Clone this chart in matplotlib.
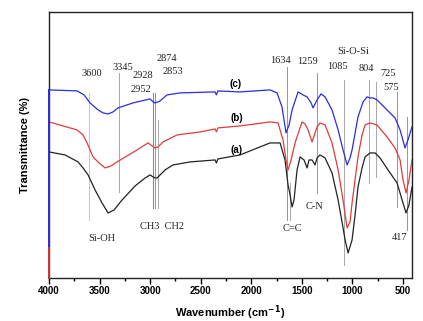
import numpy as np
import matplotlib.pyplot as plt

plt.rcParams['font.family'] = ['Liberation Sans', 'DejaVu Sans']

# FTIR spectra, transmittance in arbitrary units (offset curves)
wn_a = [4000, 3842, 3713, 3664, 3614, 3545, 3476, 3416, 3357, 3278, 3149, 3050, 3001, 2971, 2951,
        2932, 2902, 2853, 2774, 2606, 2358, 2345, 2330, 2111, 1814, 1715, 1666, 1636, 1616, 1596,
        1577, 1547, 1517, 1478, 1448, 1428, 1399, 1369, 1349, 1320, 1270, 1201, 1141, 1102, 1072,
        1042, 1003, 973, 944, 904, 874, 825, 776, 726, 647, 558, 508, 469, 440, 410]
t_a = [126, 123, 116, 110, 103, 88, 75, 65, 68, 78, 92, 100, 103, 101, 100,
       100, 103, 108, 113, 116, 118, 115, 119, 123, 135, 135, 118, 93, 83, 71,
       78, 108, 121, 118, 110, 118, 118, 113, 120, 123, 120, 105, 78, 56, 38,
       25, 38, 63, 91, 110, 121, 125, 125, 120, 108, 95, 78, 65, 73, 91]

wn_b = [4000, 3723, 3664, 3624, 3565, 3506, 3446, 3387, 3328, 3229, 3130, 3021, 2981, 2951, 2922,
        2873, 2734, 2506, 2358, 2345, 2330, 2111, 1814, 1735, 1686, 1656, 1636, 1606, 1567, 1498,
        1468, 1438, 1399, 1379, 1349, 1320, 1270, 1201, 1141, 1092, 1052, 1023, 1003, 944, 904,
        874, 825, 756, 657, 578, 528, 499, 469, 440, 410]
t_b = [156, 148, 143, 135, 121, 115, 110, 112, 116, 122, 128, 135, 132, 130, 131,
       136, 143, 146, 149, 146, 150, 152, 156, 155, 138, 118, 108, 118, 135, 156,
       154, 148, 136, 142, 151, 155, 153, 135, 108, 78, 50, 56, 75, 121, 143,
       153, 155, 153, 141, 130, 118, 98, 85, 98, 118]

wn_c = [4000, 3723, 3654, 3595, 3515, 3466, 3416, 3367, 3318, 3169, 3001, 2971, 2951, 2922, 2902,
        2833, 2704, 2358, 2345, 2330, 2111, 1814, 1745, 1696, 1676, 1656, 1626, 1596, 1537, 1488,
        1448, 1408, 1389, 1349, 1310, 1270, 1201, 1141, 1092, 1052, 1023, 1003, 944, 894, 855,
        825, 795, 756, 657, 578, 528, 479, 450, 410]
t_c = [188, 187, 183, 175, 168, 165, 164, 166, 170, 175, 179, 176, 175, 176, 177,
       183, 185, 186, 183, 187, 186, 188, 185, 171, 158, 145, 153, 168, 186, 183,
       181, 175, 170, 178, 184, 181, 168, 148, 128, 113, 120, 128, 161, 176, 181,
       180, 180, 178, 168, 160, 148, 130, 138, 151]

# band marker lines: wavenumber, top, bottom, colour
mark_wn = [3604, 3308, 2971, 2951, 2922, 1646, 1616, 1349, 1082, 835, 766, 558, 459]
mark_top = [185, 205, 185, 185, 158, 211, 95, 205, 198, 198, 196, 186, 161]
mark_bot = [58, 86, 70, 70, 70, 58, 58, 85, 13, 95, 101, 71, 48]
mark_col = ['#c8c8c8', '#aaaaaa', '#888888', '#999999', '#aaaaaa', '#999999', '#aaaaaa',
            '#999999', '#aaaaaa', '#aaaaaa', '#aaaaaa', '#999999', '#999999']

# annotation texts
ann_txt = ['3600', '3345', '2928', '2952', '2874', '2853', '1634', '1259', 'Si-O-Si', '1085',
           '804', '725', '575', 'Si-OH', 'CH3  CH2', 'C=C', 'C-N', '417']
ann_wn = [3575, 3268, 3070, 3090, 2833, 2774, 1715, 1448, 994, 1151,
          865, 647, 618, 3476, 2882, 1596, 1369, 538]
ann_t = [204, 210, 202, 188, 219, 206, 217, 216, 226, 211,
         209, 204, 190, 39, 51, 49, 71, 40]

lab_txt = ['(c)', '(b)', '(a)']
lab_wn = [2160, 2141, 2141]
lab_t = [194, 160, 128]

fig = plt.figure(figsize=(4.23, 3.21), dpi=100)
ax = fig.add_axes([0.116, 0.134, 0.858, 0.829])

for w, t0, t1, c in zip(mark_wn, mark_top, mark_bot, mark_col):
    ax.plot([w, w], [t1, t0], color=c, lw=0.75, zorder=1)

ax.plot(wn_a, t_a, color='#222222', lw=0.9, zorder=3)
ax.plot(wn_b, t_b, color='#e03c3c', lw=0.9, zorder=3)
ax.plot(wn_c, t_c, color='#2c2ce0', lw=0.9, zorder=3)

# coloured left edge as in the original
ax.plot([4000, 4000], [t_c[0], 30], color='#2c2ce0', lw=1.4, zorder=4, clip_on=False)
ax.plot([4000, 4000], [30, 0], color='#cc3333', lw=1.4, zorder=4, clip_on=False)

for s, w, t in zip(ann_txt, ann_wn, ann_t):
    ax.text(w, t, s, ha='center', va='center', fontsize=7.5,
            family='Liberation Serif', color='#222222')
for s, w, t in zip(lab_txt, lab_wn, lab_t):
    ax.text(w, t, s, ha='center', va='center', fontsize=7, fontweight='bold')

ax.set_xlim(4000, 410)
ax.set_ylim(0, 266)
ax.set_xticks(np.arange(4000, 400, -500))
ax.set_xticks(np.arange(3750, 400, -500), minor=True)
ax.set_yticks([])
ax.tick_params(axis='x', which='major', length=4, width=1, direction='out', pad=2)
ax.tick_params(axis='x', which='minor', length=2, width=1, direction='out')
for lbl in ax.get_xticklabels():
    lbl.set_fontweight('bold')
    lbl.set_fontsize(7)
for sp in ax.spines.values():
    sp.set_linewidth(1.0)
    sp.set_color('#222222')

ax.set_xlabel('Wavenumber (cm$^{\\mathbf{-1}}$)', fontsize=8, fontweight='bold', labelpad=5)
ax.set_ylabel('Transmittance (%)', fontsize=8, fontweight='bold', labelpad=14)

fig.savefig('out.png', dpi=100)
